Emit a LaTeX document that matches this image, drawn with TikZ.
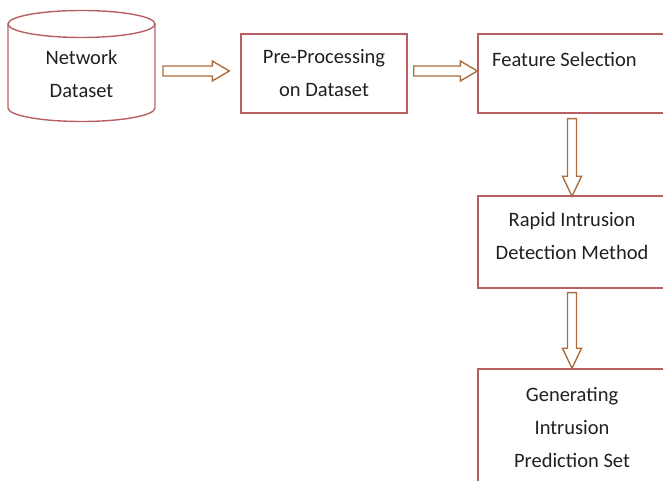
\documentclass[tikz,border=0pt]{standalone}
\usepackage{fontspec}
\setmainfont{Carlito}
\usetikzlibrary{calc}
\definecolor{boxred}{RGB}{185,95,98}
\definecolor{arrowbrown}{RGB}{172,110,62}
\definecolor{inktext}{RGB}{32,32,36}
\tikzset{
  boxline/.style={draw=boxred, line width=1.4pt},
  procbox/.style={boxline, rectangle, inner sep=0pt, minimum width=188pt},
  txt/.style={text=inktext, font=\fontsize{20.5}{33}\selectfont, align=center, inner sep=0pt},
  blk/.style={draw=arrowbrown, fill=white, line width=1.4pt, line join=miter},
}
% horizontal block arrow: start point, tip point
\newcommand\hblock[2]{\draw[blk] let \p1=#1, \p2=#2 in
  (\x1,\y1-5) -- (\x2-17,\y1-5) -- (\x2-17,\y1-10) -- (\x2,\y1) --
  (\x2-17,\y1+10) -- (\x2-17,\y1+5) -- (\x1,\y1+5) -- cycle;}
% vertical block arrow pointing down: start point, tip point
\newcommand\vblock[2]{\draw[blk] let \p1=#1, \p2=#2 in
  (\x1-4.5,\y1) -- (\x1-4.5,\y2+20) -- (\x1-9.5,\y2+20) -- (\x1,\y2) --
  (\x1+9.5,\y2+20) -- (\x1+4.5,\y2+20) -- (\x1+4.5,\y1) -- cycle;}
\begin{document}
\begin{tikzpicture}[x=1pt,y=1pt]
\useasboundingbox (0,0) rectangle (663,481);
\clip (0,0) rectangle (663,481);

% network dataset (cylinder)
\node[txt] (cyl) at (81.5,407) {Network\\Dataset};
\draw[boxline] ($(cyl)+(0,50)$) ellipse [x radius=73.5, y radius=13.5];
\draw[boxline] ($(cyl)+(-73.5,50)$) -- ($(cyl)+(-73.5,-34)$)
  arc[start angle=180, end angle=360, x radius=73.5, y radius=13.5]
  -- ($(cyl)+(73.5,50)$);

% processing stages
\node[procbox, minimum width=166pt, minimum height=79pt] (pre) at (324,407.5) {};
\node[txt] at (pre) {Pre-Processing\\on Dataset};

\node[procbox, minimum height=79pt] (feat) at (572,407.5) {};
\node[txt, anchor=west] at (492,422) {Feature Selection};

\node[procbox, minimum height=92pt] (rid) at (572,239) {};
\node[txt] at ($(rid)+(0,6)$) {Rapid Intrusion\\Detection Method};

\node[procbox, minimum height=117pt] (gen) at (572,53.5) {};
\node[txt] at (gen) {Generating\\Intrusion\\Prediction Set};

% flow arrows
\hblock{($(cyl |- pre.center)+(81.5,2.5)$)}{($(pre.west)+(-11,2.5)$)}
\hblock{($(pre.east)+(6,2.5)$)}{($(feat.west)+(0,2.5)$)}
\vblock{($(feat.south)+(0,-5)$)}{($(rid.north)+(0,-1)$)}
\vblock{($(rid.south)+(0,-4)$)}{(gen.north)}
\end{tikzpicture}
\end{document}
